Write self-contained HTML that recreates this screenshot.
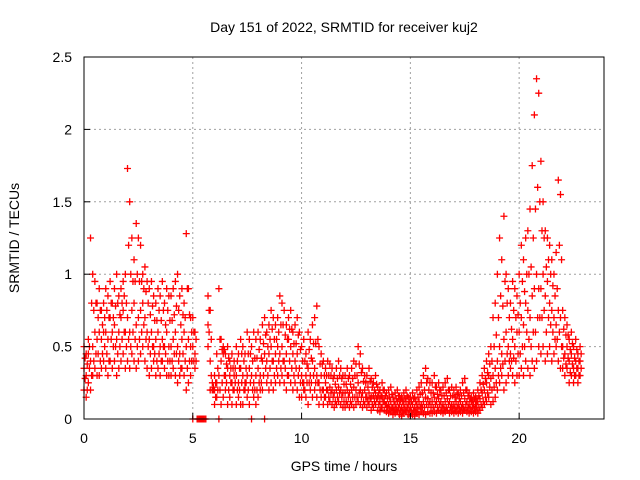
<!DOCTYPE html>
<html><head><meta charset="utf-8"><style>
body{margin:0;background:#fff;}
svg{display:block;font-family:"Liberation Sans",sans-serif;}
</style></head><body>
<svg id="chart" width="640" height="480">
<text x="344" y="32" text-anchor="middle" font-size="14">Day 151 of 2022, SRMTID for receiver kuj2</text>
<text x="344" y="471" text-anchor="middle" font-size="14">GPS time / hours</text>
<text transform="translate(19,238) rotate(-90)" text-anchor="middle" font-size="14">SRMTID / TECUs</text>
<g id="grid"></g><g id="marks"></g><g id="axes"></g>
</svg>
<script>
const xTicks=[0,5,10,15,20];
const yTicks=[0,0.5,1,1.5,2,2.5];
const yTickLabels=["0","0.5","1","1.5","2","2.5"];
const tStart=0, tStep=0.1, tOffsetB=0.05;
const low=[.2,.15,.25,.2,.3,.35,.3,.3,.35,.4, .35,.3,.4,.35,.4,.3,.35,.4,.45,.35, .4,.35,.45,.4,.35,.4,.45,.5,.4,.35, .3,.35,.4,.3,.35,.3,.4,.35,.3,.3, .3,.35,.3,.25,.3,.35,.3,.2,.25,.3, 0,.35,0,0,0,0,0,.5,.2,.2, .1,.15,0,.1,.15,.2,.1,.15,.1,.2, .1,.15,.1,.1,.2,.15,.1,0,.15,.1, .15,.2,.2,0,.25,.2,.25,.2,.25,.3, .25,.3,.25,.2,.3,.25,.2,.25,.2,.15, .15,.2,.15,.1,.2,.15,.2,.15,.1,.15, .1,.15,.1,.12,.1,.08,.1,.12,.1,.08, .08,.1,.08,.1,.08,.1,.12,.1,.08,.1, .08,.1,.06,.08,.1,.06,.05,.08,.06,.05, .04,.05,.03,.04,.05,.03,.02,.04,.05,.03, .02,.03,.02,.04,.03,.05,.04,.03,.05,.04, .04,.05,.04,.06,.05,.04,.05,.06,.04,.05, .04,.05,.04,.05,.04,.06,.05,.04,.05,.04, .05,.04,.06,.08,.1,.12,.15,.1,.12,.15, .2,.25,.3,.2,.25,.3,.35,.3,.25,.3, .3,.35,.3,.4,.35,.3,.4,.35,.4,.5, .45,.5,.4,.45,.5,.4,.45,.5,.4,.35, .35,.3,.35,.25,.3,.25,.3,.25,.3];
const mid=[.35,.3,.45,.4,.5,.6,.55,.6,.55,.6, .6,.55,.7,.6,.65,.55,.6,.7,.75,.6, .7,.6,.75,.8,.65,.7,.75,.8,.7,.6, .55,.6,.5,.55,.6,.5,.55,.5,.6,.5, .5,.55,.6,.5,.45,.55,.6,.5,.55,.5, .5,.45,null,null,null,null,null,.65,.4,.25, .2,.25,.3,.4,.45,.3,.35,.3,.25,.3, .3,.25,.35,.3,.25,.3,.35,.3,.25,.3, .35,.3,.4,.45,.4,.45,.5,.4,.45,.5, .45,.5,.4,.45,.55,.5,.45,.4,.45,.35, .3,.25,.3,.35,.3,.4,.35,.3,.25,.3, .2,.25,.2,.22,.2,.18,.2,.22,.2,.18, .18,.2,.18,.2,.22,.2,.25,.2,.18,.2, .15,.18,.15,.16,.18,.15,.12,.15,.12,.1, .1,.12,.08,.1,.12,.1,.08,.1,.12,.1, .08,.1,.08,.1,.12,.1,.12,.15,.14,.12, .12,.15,.12,.14,.12,.1,.12,.14,.12,.1, .1,.12,.1,.12,.1,.14,.12,.1,.12,.1, .1,.12,.14,.18,.2,.25,.3,.28,.3,.35, .4,.5,.45,.55,.6,.5,.45,.55,.5,.6, .6,.7,.65,.8,.75,.7,.85,.9,1.0,.9, .9,1.0,.85,.95,.8,.75,.7,.65,.75,.7, .5,.45,.5,.4,.45,.35,.4,.35,.4];
const high=[.5,.45,.55,1.25,1.0,.95,.8,.9,.75,.8, .9,.85,.95,.8,.9,1.0,.85,.9,.95,1.0, 1.73,1.5,1.25,1.1,1.35,1.25,1.2,1.0,1.05,.95, .9,.95,.85,.8,.9,.85,.95,.8,.9,.85, .85,.9,.95,1.0,.85,.9,.8,1.28,.9,.7, .7,.6,null,null,null,null,null,.85,.75,.2, .3,.45,.9,.55,.5,.45,.5,.4,.45,.4, .5,.45,.55,.5,.45,.6,.55,.5,.6,.55, .6,.55,.65,.7,.6,.65,.75,.7,.65,.7, .85,.8,.75,.65,.7,.75,.6,.65,.7,.6, .5,.55,.45,.6,.55,.65,.7,.78,.5,.45, .4,.35,.4,.38,.35,.3,.35,.4,.35,.3, .3,.35,.3,.35,.4,.38,.5,.45,.35,.3, .3,.35,.28,.25,.3,.22,.2,.25,.2,.18, .2,.22,.15,.18,.2,.16,.15,.18,.2,.15, .15,.18,.15,.2,.22,.25,.3,.35,.28,.25, .25,.3,.22,.25,.2,.22,.25,.28,.2,.22, .2,.22,.18,.2,.25,.28,.2,.18,.15,.18, .15,.2,.25,.3,.35,.4,.45,.5,.7,.8, 1.0,1.25,1.1,1.4,1.0,.9,.8,.95,.9,.85, 1.0,1.2,1.1,1.25,1.3,1.45,1.75,2.1,2.35,2.25, 1.78,1.5,1.3,1.25,1.2,1.1,1.0,1.15,1.65,1.55, .75,.7,.65,.55,.6,.5,.55,.45,.5];
const midLo=[.28,.2,.35,.3,.4,.45,.45,.4,.45,.5, .45,.4,.55,.5,.5,.45,.5,.55,.6,.5, .55,.5,.6,.55,.5,.55,.6,.65,.55,.5, .45,.5,.45,.4,.45,.4,.5,.45,.4,.4, .4,.45,.45,.4,.35,.45,.4,.35,.4,.4, .4,.4,0,0,0,0,null,.6,.3,.2, .15,.2,.2,.25,.3,.25,.2,.25,.2,.25, .2,.2,.25,.2,.25,.2,.25,.2,.2,.2, .25,.25,.3,.35,.3,.35,.4,.3,.35,.4, .35,.4,.35,.3,.4,.35,.3,.35,.3,.25, .25,.2,.25,.25,.25,.3,.25,.25,.2,.2, .15,.2,.15,.18,.15,.12,.15,.18,.15,.12, .12,.15,.12,.15,.15,.15,.18,.15,.12,.15, .12,.14,.1,.12,.14,.1,.08,.12,.1,.08, .07,.08,.06,.07,.08,.06,.05,.07,.08,.06, .05,.06,.05,.07,.08,.08,.08,.1,.1,.08, .08,.1,.08,.1,.08,.07,.08,.1,.08,.07, .07,.08,.07,.08,.07,.1,.08,.07,.08,.07, .08,.08,.1,.12,.15,.18,.22,.2,.22,.25, .3,.35,.38,.4,.45,.4,.4,.42,.4,.45, .45,.5,.5,.6,.55,.5,.6,.6,.7,.7, .7,.75,.6,.7,.65,.6,.55,.55,.6,.5, .42,.38,.42,.32,.38,.3,.35,.3,.35];
const midHi=[.42,.38,.5,.8,.75,.8,.7,.75,.65,.7, .75,.7,.8,.7,.78,.8,.72,.8,.85,.8, 1.2,1.0,.95,.95,1.0,.95,.95,.9,.88,.8, .72,.78,.68,.68,.75,.68,.75,.65,.75,.68, .68,.72,.78,.75,.65,.72,.7,.9,.72,.6, .6,.55,null,null,null,null,null,.75,.55,.22, .25,.35,.55,.48,.48,.38,.42,.35,.35,.35, .4,.35,.45,.4,.35,.45,.45,.4,.42,.42, .48,.42,.52,.58,.5,.55,.62,.55,.55,.6, .65,.65,.58,.55,.62,.62,.52,.52,.58,.48, .4,.4,.38,.48,.42,.52,.52,.55,.38,.38, .3,.3,.3,.3,.28,.24,.28,.3,.28,.24, .24,.28,.24,.28,.3,.3,.38,.32,.26,.25, .22,.26,.22,.2,.24,.18,.16,.2,.16,.14, .15,.17,.12,.14,.16,.13,.12,.14,.16,.12, .12,.14,.12,.15,.17,.18,.2,.25,.2,.18, .18,.22,.17,.2,.16,.16,.18,.2,.16,.16, .15,.17,.14,.16,.18,.2,.16,.14,.13,.14, .12,.16,.2,.24,.28,.32,.38,.4,.5,.58, .7,.85,.78,.95,.8,.7,.62,.75,.7,.72, .8,.95,.88,1.0,1.0,1.05,1.25,1.45,1.6,1.5, 1.3,1.25,1.05,1.1,1.0,.92,.85,.9,1.2,1.1, .62,.58,.58,.48,.52,.42,.48,.4,.45];
const NS='http://www.w3.org/2000/svg';
const X0=84,X1=604,Y0=419,Y1=57,TMAX=23.9,VMAX=2.5;
function xs(t){return X0+(X1-X0)*t/TMAX;}
function ys(v){return Y0-(Y0-Y1)*v/VMAX;}
function mk(tag,attrs,parent){const e=document.createElementNS(NS,tag);for(const k in attrs)e.setAttribute(k,attrs[k]);parent.appendChild(e);return e;}
const grid=document.getElementById('grid'),marks=document.getElementById('marks'),axes=document.getElementById('axes');
xTicks.forEach(t=>{
 if(t>0){const l=mk('line',{x1:xs(t),x2:xs(t),y1:Y0,y2:Y1,stroke:'#a0a0a0','stroke-dasharray':'2,3'},grid);
 
 }
 const tx=mk('text',{x:xs(t),y:Y0+24,'text-anchor':'middle','font-size':'14'},axes);tx.textContent=t;
 
 
 mk('line',{x1:xs(t),x2:xs(t),y1:Y0,y2:Y0-6,stroke:'#000'},axes);
});
yTicks.forEach((v,i)=>{
 if(v>0&&v<VMAX){const l=mk('line',{x1:X0,x2:X1,y1:ys(v),y2:ys(v),stroke:'#a0a0a0','stroke-dasharray':'2,3'},grid);
 
 }
 const tx=mk('text',{x:X0-12,y:ys(v)+5,'text-anchor':'end','font-size':'14'},axes);tx.textContent=yTickLabels[i];
 
 
 mk('line',{x1:X0,x2:X0+6,y1:ys(v),y2:ys(v),stroke:'#000'},axes);
});
const frame=mk('rect',{x:X0,y:Y1,width:X1-X0,height:Y0-Y1,fill:'none',stroke:'#000'},axes);


function plus(t,v){
 const x=xs(t),y=ys(v);
 const p=mk('path',{d:`M${x-3.5},${y}h7M${x},${y-3.5}v7`,stroke:'#ff0000','stroke-width':'1.3',fill:'none'},marks);
 
 
}
[low,mid,high].forEach(arr=>arr.forEach((v,i)=>{if(v!==null)plus(tStart+i*tStep,v);}));
[midLo,midHi].forEach(arr=>arr.forEach((v,i)=>{if(v!==null)plus(tStart+tOffsetB+i*tStep,v);}));
</script>
</body></html>
